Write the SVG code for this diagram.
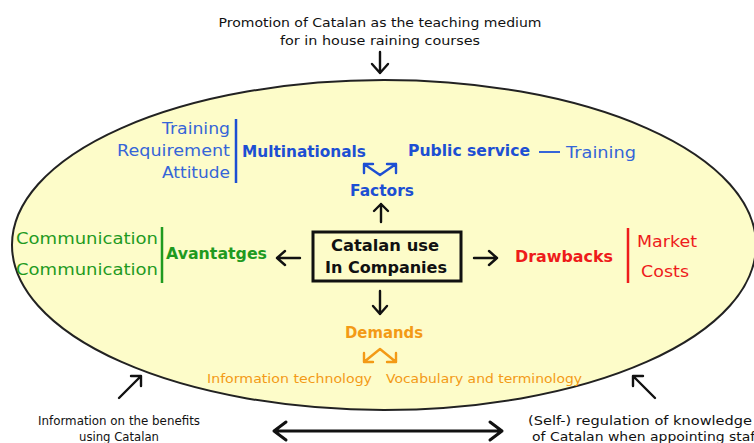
<svg xmlns="http://www.w3.org/2000/svg" width="754" height="443" viewBox="0 0 754 443">
  <style>
    text { font-family: "DejaVu Sans", Verdana, sans-serif; }
    .note { font-size: 12.5px; fill: #111; }
    .lbl { font-size: 16px; }
    .hd { font-size: 15.5px; font-weight: bold; }
    .blue { fill: #3565d8; }
    .blueB { fill: #1d4fd3; }
    .green { fill: #1f9a1f; }
    .red { fill: #ee1b1b; }
    .orange { fill: #f39a16; }
    .arr { fill: none; stroke: #111; stroke-width: 2.4; stroke-linecap: round; stroke-linejoin: round; }
    .bar { stroke-width: 2.5; }
  </style>

  <!-- company boundary -->
  <g id="company">
    <ellipse cx="384" cy="245" rx="372" ry="165" fill="#fdfcc9" stroke="#222" stroke-width="2"/>
  </g>

  <!-- external influences -->
  <g id="promotion">
    <text class="note" x="380" y="27" text-anchor="middle" textLength="323" lengthAdjust="spacingAndGlyphs">Promotion of Catalan as the teaching medium</text>
    <text class="note" x="380" y="45" text-anchor="middle" textLength="200" lengthAdjust="spacingAndGlyphs">for in house raining courses</text>
  </g>
  <g id="information">
    <text class="note" x="119" y="425" text-anchor="middle" textLength="162" lengthAdjust="spacingAndGlyphs">Information on the benefits</text>
    <text class="note" x="119" y="441" text-anchor="middle" textLength="80" lengthAdjust="spacingAndGlyphs">using Catalan</text>
  </g>
  <g id="regulation">
    <text class="note" x="528" y="425" textLength="224" lengthAdjust="spacingAndGlyphs">(Self-) regulation of knowledge</text>
    <text class="note" x="532" y="441" textLength="228" lengthAdjust="spacingAndGlyphs">of Catalan when appointing staff</text>
  </g>

  <!-- central node -->
  <g id="catalan-use">
    <rect x="313" y="232" width="148" height="49" fill="none" stroke="#111" stroke-width="3"/>
    <text class="hd" x="385" y="251" text-anchor="middle" fill="#111" textLength="108" lengthAdjust="spacingAndGlyphs">Catalan use</text>
    <text class="hd" x="386" y="273" text-anchor="middle" fill="#111" textLength="122" lengthAdjust="spacingAndGlyphs">In Companies</text>
  </g>

  <!-- factors branch -->
  <g id="factors">
    <text class="hd blueB" x="350" y="196" textLength="64" lengthAdjust="spacingAndGlyphs">Factors</text>
  </g>
  <g id="multinationals">
    <text class="hd blueB" x="242" y="157" textLength="124" lengthAdjust="spacingAndGlyphs">Multinationals</text>
    <line class="bar" x1="236" y1="119" x2="236" y2="183" stroke="#1d4fd3"/>
    <text class="lbl blue" x="230" y="134" text-anchor="end" textLength="68" lengthAdjust="spacingAndGlyphs">Training</text>
    <text class="lbl blue" x="230" y="156" text-anchor="end" textLength="113" lengthAdjust="spacingAndGlyphs">Requirement</text>
    <text class="lbl blue" x="230" y="178" text-anchor="end" textLength="68" lengthAdjust="spacingAndGlyphs">Attitude</text>
  </g>
  <g id="public-service">
    <text class="hd blueB" x="408" y="156" textLength="122" lengthAdjust="spacingAndGlyphs">Public service</text>
    <line x1="539" y1="152" x2="560" y2="152" stroke="#3565d8" stroke-width="2"/>
    <text class="lbl blue" x="566" y="158" textLength="70" lengthAdjust="spacingAndGlyphs">Training</text>
  </g>

  <!-- advantages branch -->
  <g id="avantatges">
    <text class="hd green" x="166" y="259" textLength="101" lengthAdjust="spacingAndGlyphs">Avantatges</text>
    <line class="bar" x1="162" y1="227" x2="162" y2="283" stroke="#1f9a1f"/>
    <text class="lbl green" x="158" y="244" text-anchor="end" textLength="142" lengthAdjust="spacingAndGlyphs">Communication</text>
    <text class="lbl green" x="158" y="275" text-anchor="end" textLength="142" lengthAdjust="spacingAndGlyphs">Communication</text>
  </g>

  <!-- drawbacks branch -->
  <g id="drawbacks">
    <text class="hd red" x="515" y="262" textLength="98" lengthAdjust="spacingAndGlyphs">Drawbacks</text>
    <line class="bar" x1="628" y1="228" x2="628" y2="283" stroke="#ee1b1b"/>
    <text class="lbl red" x="637" y="247" textLength="60" lengthAdjust="spacingAndGlyphs">Market</text>
    <text class="lbl red" x="641" y="277" textLength="48" lengthAdjust="spacingAndGlyphs">Costs</text>
  </g>

  <!-- demands branch -->
  <g id="demands">
    <text class="hd orange" x="345" y="338" textLength="78" lengthAdjust="spacingAndGlyphs">Demands</text>
  </g>
  <g id="information-technology">
    <text class="note orange" x="207" y="383" textLength="165" lengthAdjust="spacingAndGlyphs">Information technology</text>
  </g>
  <g id="vocabulary">
    <text class="note orange" x="386" y="383" textLength="196" lengthAdjust="spacingAndGlyphs">Vocabulary and terminology</text>
  </g>

  <!-- connectors -->
  <g id="connectors">
    <!-- promotion into the company -->
    <path class="arr" d="M380,52 V73 M372,64 L380,73 L388,64"/>
    <!-- centre to factors -->
    <path class="arr" d="M381,222 V204 M374,211 L381,204 L388,211"/>
    <!-- factors split -->
    <path class="arr" stroke="#1d4fd3" style="stroke:#1d4fd3" d="M364,164 L380,175 L396,164 M373,164 H364 V173 M387,164 H396 V173"/>
    <!-- centre to advantages / drawbacks -->
    <path class="arr" d="M300,258 H277 M285,251 L277,258 L285,265"/>
    <path class="arr" d="M474,258 H497 M489,251 L497,258 L489,265"/>
    <!-- centre to demands -->
    <path class="arr" d="M380,291 V314 M373,306 L380,314 L387,306"/>
    <!-- demands split -->
    <path class="arr" style="stroke:#f39a16" d="M364,362 L380,349 L396,362 M364,353 V362 H373 M396,353 V362 H387"/>
    <!-- outside influences -->
    <path class="arr" d="M119,398 L141,376 M131,376 H141 V386"/>
    <path class="arr" d="M655,398 L633,376 M643,376 H633 V386"/>
    <path class="arr" style="stroke-width:3" d="M274,431 H502 M286,422 L274,431 L286,440 M490,422 L502,431 L490,440"/>
  </g>
</svg>
